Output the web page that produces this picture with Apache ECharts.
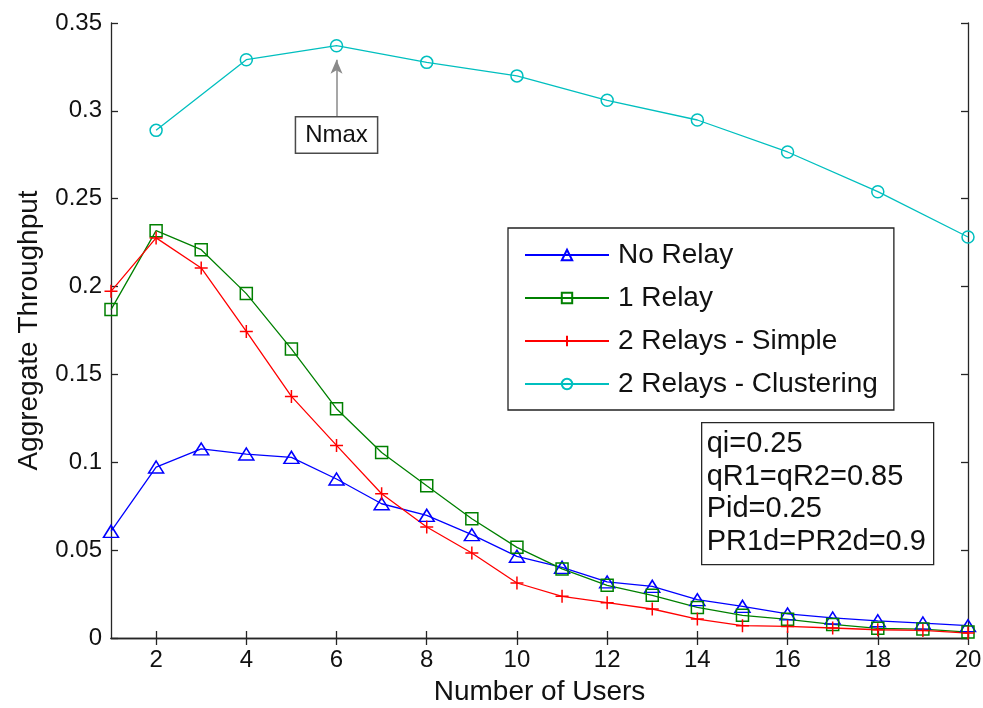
<!DOCTYPE html>
<html>
<head>
<meta charset="utf-8">
<script src="https://cdn.jsdelivr.net/npm/echarts@6/dist/echarts.min.js"></script>
<style>html,body{margin:0;padding:0;background:#fff}#c{width:983px;height:708px}</style>
</head>
<body>
<div id="c"></div>
<script>
var users = [1,2,3,4,5,6,7,8,9,10,11,12,13,14,15,16,17,18,19,20];
var noRelay = [0.0607,0.0973,0.1076,0.1047,0.1028,0.0905,0.0764,0.0698,0.0588,0.0465,0.0402,0.0319,0.0294,0.0218,0.0180,0.0137,0.0114,0.0098,0.0085,0.0070];
var oneRelay = [0.1869,0.2318,0.2210,0.1960,0.1645,0.1305,0.1056,0.0867,0.0679,0.0516,0.0393,0.0300,0.0243,0.0174,0.0129,0.0106,0.0077,0.0055,0.0051,0.0034];
var twoSimple = [0.1973,0.2277,0.2106,0.1745,0.1375,0.1096,0.0821,0.0632,0.0484,0.0313,0.0237,0.0201,0.0165,0.0108,0.0070,0.0066,0.0057,0.0047,0.0043,0.0028];
var clusterUsers = [2,4,6,8,10,12,14,16,18,20];
var twoCluster = [0.2889,0.3291,0.3371,0.3276,0.3199,0.3060,0.2948,0.2766,0.2540,0.2282];
var xTicks = [2,4,6,8,10,12,14,16,18,20];
var seriesNames = ['No Relay','1 Relay','2 Relays - Simple','2 Relays - Clustering'];
var paramLines = ['qi=0.25','qR1=qR2=0.85','Pid=0.25','PR1d=PR2d=0.9'];
var annotationText = 'Nmax';

function pairs(xs, ys){ return xs.map(function(x,i){ return [x, ys[i]]; }); }

var FONT = '"Liberation Sans", Arial, Helvetica, sans-serif';
var AX = '#262626';
var plus = 'path://M0,5 L10,5 M5,0 L5,10';

var chart = echarts.init(document.getElementById('c'), null, {renderer:'canvas'});
function mk(name, color, data, symbol, size){
  return {
    name: name, type: 'line', data: data, symbol: symbol, symbolSize: size,
    showSymbol: true, animation: false,
    lineStyle: {color: color, width: 1.3},
    itemStyle: {color: 'transparent', borderColor: color, borderWidth: 1.5},
    color: color
  };
}
var s4 = mk(seriesNames[3], '#00bfbf', pairs(clusterUsers, twoCluster), 'circle', 12);
s4.markLine = {
  silent: true, animation: false,
  symbol: ['none','arrow'], symbolSize: [9, 14],
  lineStyle: {color: '#8a8a8a', width: 1.5, type: 'solid'},
  label: {show: false},
  data: [[{coord: [6, 0.2967]}, {coord: [6, 0.3291]}]]
};
s4.markPoint = {
  silent: true, animation: false,
  symbol: 'rect', symbolSize: 0,
  data: [{coord: [6, 0.2862]}],
  label: {show: true, position: 'inside', formatter: annotationText, color: '#111',
    fontFamily: FONT, fontSize: 24, backgroundColor: '#fff', borderColor: '#4a4a4a',
    borderWidth: 1.5, padding: [6, 9, 5, 9]}
};

var option = {
  animation: false,
  backgroundColor: '#fff',
  textStyle: {fontFamily: FONT},
  grid: {left: 111, right: 15, top: 23, bottom: 70, containLabel: false, outerBoundsMode: 'none'},
  xAxis: [{
    type: 'value', min: 1, max: 20, position: 'bottom',
    name: 'Number of Users', nameLocation: 'middle', nameGap: 40,
    nameTextStyle: {fontSize: 28, color: '#111', fontFamily: FONT},
    axisLine: {show: true, lineStyle: {color: AX, width: 1.3}},
    axisTick: {show: true, inside: true, length: 7, customValues: xTicks, lineStyle: {color: AX, width: 1.3}},
    axisLabel: {show: true, customValues: xTicks, fontSize: 24, color: '#111', margin: 10, fontFamily: FONT},
    splitLine: {show: false}
  },{
    type: 'value', min: 1, max: 20, position: 'top',
    axisLine: {show: true, lineStyle: {color: AX, width: 1.3}},
    axisTick: {show: true, inside: true, length: 7, customValues: xTicks, lineStyle: {color: AX, width: 1.3}},
    axisLabel: {show: false}, splitLine: {show: false}
  }],
  yAxis: [{
    type: 'value', min: 0, max: 0.35, interval: 0.05, position: 'left',
    name: 'Aggregate Throughput', nameLocation: 'middle', nameGap: 68, nameRotate: 90,
    nameTextStyle: {fontSize: 28, color: '#111', fontFamily: FONT},
    axisLine: {show: true, lineStyle: {color: AX, width: 1.3}},
    axisTick: {show: true, inside: true, length: 7, lineStyle: {color: AX, width: 1.3}},
    axisLabel: {show: true, fontSize: 24, color: '#111', margin: 9, fontFamily: FONT},
    splitLine: {show: false}
  },{
    type: 'value', min: 0, max: 0.35, interval: 0.05, position: 'right',
    axisLine: {show: true, lineStyle: {color: AX, width: 1.3}},
    axisTick: {show: true, inside: true, length: 7, lineStyle: {color: AX, width: 1.3}},
    axisLabel: {show: false}, splitLine: {show: false}
  }],
  legend: {
    show: true, orient: 'vertical', left: 508, top: 228,
    data: seriesNames,
    itemWidth: 84, itemHeight: 13, itemGap: 13,
    padding: [12, 16, 11, 16],
    backgroundColor: '#fff', borderColor: '#222', borderWidth: 1.3, borderRadius: 0,
    textStyle: {fontSize: 28, color: '#111', fontFamily: FONT, lineHeight: 30, padding: [0, 0, 0, 4]},
    selectedMode: false
  },
  graphic: [{
    type: 'group', left: 701, top: 422,
    children: [{
      type: 'rect', shape: {x: 0, y: 0, width: 232, height: 142},
      style: {fill: '#fff', stroke: '#262626', lineWidth: 1.3}
    },{
      type: 'text', left: 5, top: 5,
      style: {text: paramLines.join('\n'), font: '29px ' + FONT, fill: '#111', lineHeight: 32.7}
    }]
  }],
  series: [
    mk(seriesNames[0], '#0000ff', pairs(users, noRelay), 'triangle', [15, 12]),
    mk(seriesNames[1], '#008000', pairs(users, oneRelay), 'rect', 12),
    mk(seriesNames[2], '#ff0000', pairs(users, twoSimple), plus, 13),
    s4
  ]
};
chart.setOption(option);
</script>
</body>
</html>
